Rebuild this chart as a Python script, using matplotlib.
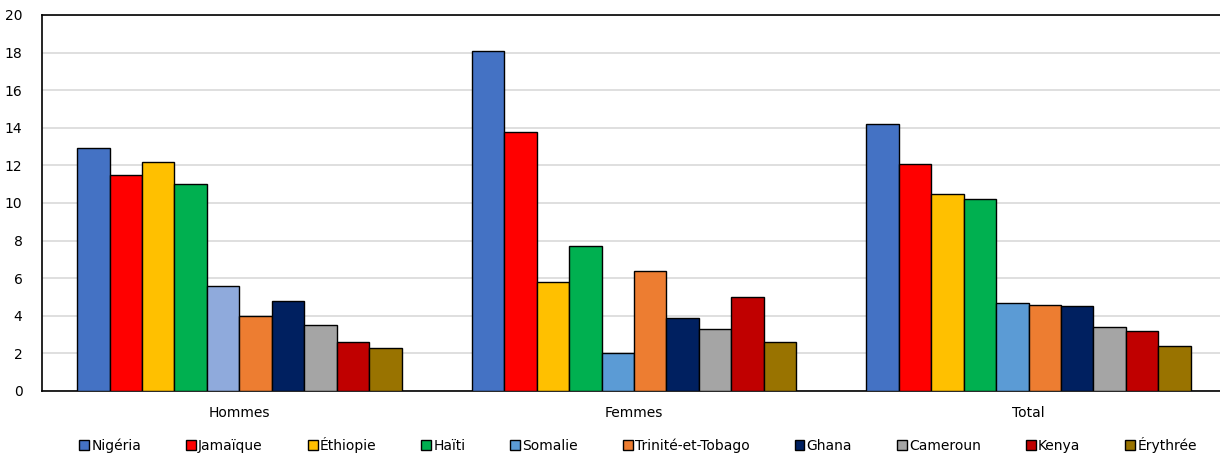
import matplotlib
matplotlib.use("Agg")
import matplotlib.pyplot as plt
from matplotlib.patches import Patch
import numpy as np

categories = ["Hommes", "Femmes", "Total"]
countries = ["Nigéria", "Jamaïque", "Éthiopie", "Haïti", "Somalie",
             "Trinité-et-Tobago", "Ghana", "Cameroun", "Kenya", "Érythrée"]
values = {
    "Nigéria": [12.9, 18.1, 14.2],
    "Jamaïque": [11.5, 13.8, 12.1],
    "Éthiopie": [12.2, 5.8, 10.5],
    "Haïti": [11.0, 7.7, 10.2],
    "Somalie": [5.6, 2.0, 4.7],
    "Trinité-et-Tobago": [4.0, 6.4, 4.6],
    "Ghana": [4.8, 3.9, 4.5],
    "Cameroun": [3.5, 3.3, 3.4],
    "Kenya": [2.6, 5.0, 3.2],
    "Érythrée": [2.3, 2.6, 2.4],
}
colors = {
    "Nigéria": "#4472C4", "Jamaïque": "#FF0000", "Éthiopie": "#FFC000",
    "Haïti": "#00B050", "Somalie": "#5B9BD5", "Trinité-et-Tobago": "#ED7D31",
    "Ghana": "#002060", "Cameroun": "#A5A5A5", "Kenya": "#C00000",
    "Érythrée": "#997300",
}
somalie_hommes_color = "#8FAADC"

plt.rcParams['font.family'] = ['DejaVu Sans']
fig = plt.figure(figsize=(12.2, 4.57), dpi=100)
ax = fig.add_axes([42/1220, 66/457, (1220-42)/1220, 376/457])

n = len(countries)
group_w = 0.822
bw = group_w / n
x = np.arange(len(categories))
for i, c in enumerate(countries):
    offs = x - group_w/2 + bw*(i + 0.5)
    cols = [colors[c]] * len(categories)
    if c == "Somalie":
        cols[0] = somalie_hommes_color
    ax.bar(offs, values[c], width=bw, color=cols, edgecolor="black",
           linewidth=1.0, zorder=3)

ax.set_ylim(0, 20)
ax.set_yticks(np.arange(0, 21, 2))
ax.set_xlim(-0.5, 2.485)
ax.set_xticks(x)
ax.set_xticklabels(categories, fontsize=10)
ax.tick_params(axis='both', length=0, labelsize=10, colors="black")
ax.tick_params(axis='x', pad=11)
ax.tick_params(axis='y', pad=14)
ax.grid(axis='y', color="#D9D9D9", linewidth=1.2, zorder=0)
for s in ["left", "top", "bottom"]:
    ax.spines[s].set_color("black")
    ax.spines[s].set_linewidth(1.2)
ax.spines["right"].set_visible(False)

handles = [Patch(facecolor=colors[c], edgecolor="black", linewidth=1.0) for c in countries]
fig.legend(handles, countries, loc="center", bbox_to_anchor=(0.523, 12/457),
           ncol=n, frameon=False, fontsize=10, handlelength=0.7, handleheight=0.7,
           handletextpad=0.15, columnspacing=3.25, borderpad=0)

fig.savefig("out.png", dpi=100)
